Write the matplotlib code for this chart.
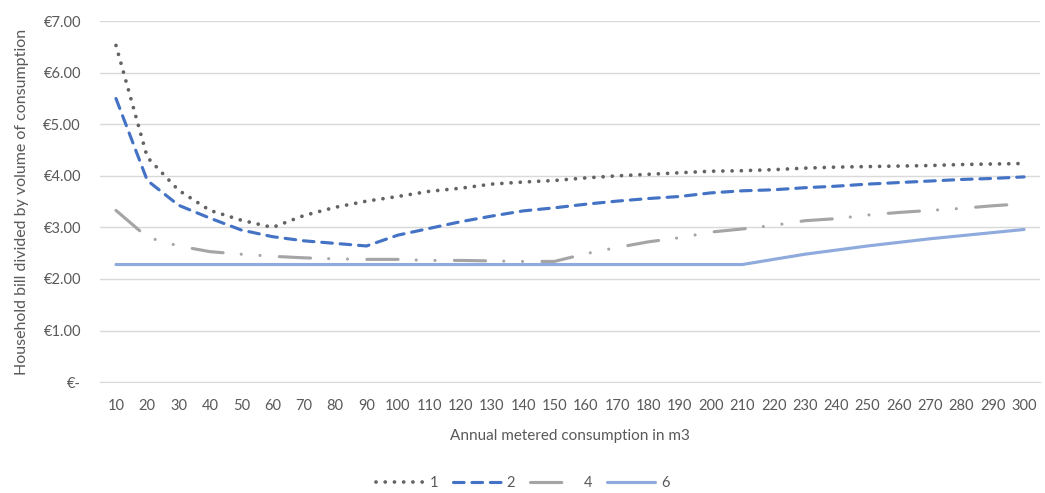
import matplotlib.pyplot as plt
from matplotlib.ticker import FuncFormatter

volumes = [10, 20, 30, 40, 50, 60, 70, 80, 90, 100, 110, 120, 130, 140, 150,
           160, 170, 180, 190, 200, 210, 220, 230, 240, 250, 260, 270, 280, 290, 300]

# bill per m3 for each household size
size_1 = [6.53, 4.36, 3.72, 3.33, 3.14, 3.00, 3.23, 3.39, 3.51, 3.60,
          3.70, 3.76, 3.84, 3.88, 3.91, 3.96, 4.00, 4.03, 4.06, 4.09,
          4.10, 4.12, 4.15, 4.17, 4.18, 4.19, 4.20, 4.22, 4.23, 4.24]
size_2 = [5.50, 3.91, 3.43, 3.18, 2.95, 2.82, 2.74, 2.69, 2.64, 2.85,
          2.98, 3.11, 3.22, 3.32, 3.38, 3.45, 3.51, 3.56, 3.60, 3.67,
          3.71, 3.73, 3.77, 3.80, 3.84, 3.87, 3.90, 3.93, 3.95, 3.98]
size_4 = [3.33, 2.81, 2.64, 2.53, 2.48, 2.44, 2.41, 2.39, 2.38, 2.38,
          2.36, 2.36, 2.35, 2.34, 2.34, 2.49, 2.61, 2.72, 2.80, 2.91,
          2.97, 3.04, 3.13, 3.17, 3.24, 3.29, 3.33, 3.37, 3.42, 3.46]
size_6 = [2.28, 2.28, 2.28, 2.28, 2.28, 2.28, 2.28, 2.28, 2.28, 2.28,
          2.28, 2.28, 2.28, 2.28, 2.28, 2.28, 2.28, 2.28, 2.28, 2.28,
          2.28, 2.38, 2.48, 2.56, 2.64, 2.71, 2.78, 2.84, 2.90, 2.96]

series_labels = ["1", "2", "4", "6"]

plt.rcParams['font.family'] = ['Lato', 'DejaVu Sans']
grey_text = "#595959"

fig = plt.figure(figsize=(10.45, 4.93), dpi=100)
ax = fig.add_axes([0.096, 0.225, 0.899, 0.732])

x = range(len(volumes))
lw = 2.25
ax.plot(x, size_1, color="#636363", lw=2.7, linestyle=(0, (0.01, 2.45)),
        dash_capstyle="round", label=series_labels[0], zorder=4)
ax.plot(x, size_2, color="#4472C4", lw=lw, linestyle=(0, (3.4, 2.5)),
        dash_capstyle="round", label=series_labels[1], zorder=3)
ax.plot(x, size_4, color="#A5A5A5", lw=lw, linestyle=(0, (10, 5.8, 0.01, 6, 0.01, 6.2)),
        dash_capstyle="round", label=series_labels[2], zorder=2)
ax.plot(x, size_6, color="#8FAADC", lw=lw, solid_capstyle="round",
        label=series_labels[3], zorder=1)

ax.set_xlim(-0.5, len(volumes) - 0.5)
ax.set_ylim(0, 7)
ax.set_xticks(list(x))
ax.set_xticklabels([str(v) for v in volumes])
ax.set_yticks(range(0, 8))


def euro(v, pos):
    return "€-" if v == 0 else f"€{v:.2f}"


ax.yaxis.set_major_formatter(FuncFormatter(euro))
ax.tick_params(axis="both", length=0, colors=grey_text, labelsize=10.5)
ax.tick_params(axis="x", pad=12)
ax.tick_params(axis="y", pad=14)

ax.grid(axis="y", color="#D9D9D9", lw=1)
ax.set_axisbelow(True)
for side in ["top", "right", "left"]:
    ax.spines[side].set_visible(False)
ax.spines["bottom"].set_color("#D9D9D9")

ax.set_xlabel("Annual metered consumption in m3", color=grey_text, fontsize=11, labelpad=12)
ax.set_ylabel("Household bill divided by volume of consumption", color=grey_text,
              fontsize=11.5, labelpad=10)

leg = fig.legend(loc="center", bbox_to_anchor=(0.5, 0.02), ncol=4, frameon=False,
                 fontsize=10.5, handlelength=3.3, columnspacing=1.0, handletextpad=0.4,
                 borderpad=0.1)
for t in leg.get_texts():
    t.set_color(grey_text)

fig.savefig("out.png", dpi=100)
